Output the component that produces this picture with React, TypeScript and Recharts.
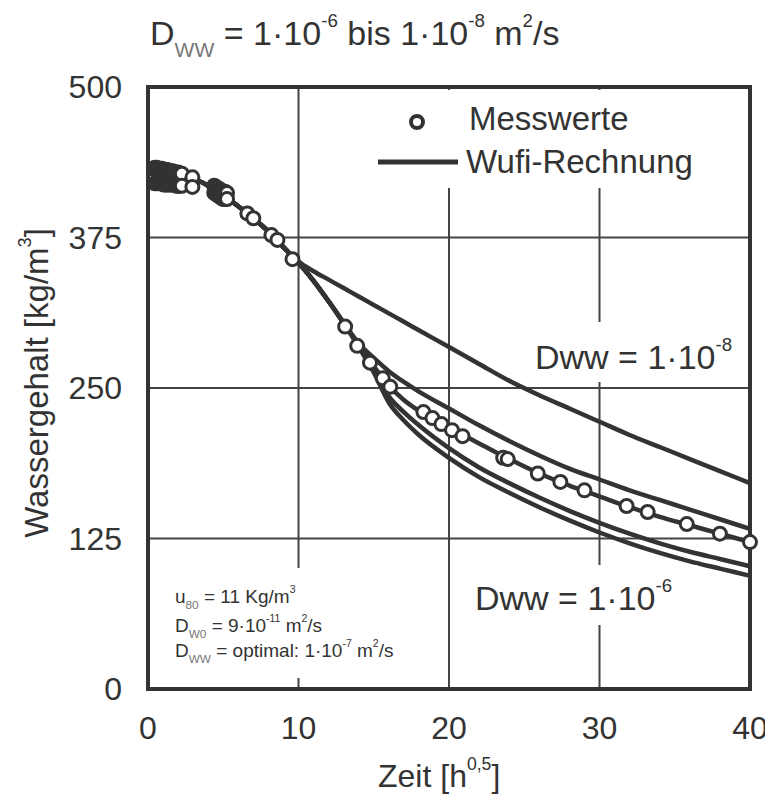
import React from 'react';
import { ComposedChart, Line, Scatter, XAxis, YAxis, CartesianGrid, ReferenceArea } from 'recharts';

const FONT = '"Liberation Sans", Arial, sans-serif';
const INK = '#333';

// Zeit-Stützstellen der Wufi-Kurven [h^0,5]
const kurvenZeit = [0, 1, 2, 3, 4, 5, 6, 7, 8, 9, 10, 11, 12, 13, 14, 15, 16, 17, 18, 20, 22, 24, 26, 28, 30, 32, 34, 36, 38, 40];

// Wassergehalt der Wufi-Rechnungen [kg/m3], von Dww = 1e-8 (oben) bis 1e-6 (unten)
const dww1e8 = [428, 428, 427, 424, 418, 410, 401, 391, 380, 367, 355, 347, 340, 333, 326, 319, 312, 305, 298, 284, 270, 256, 244, 233, 222, 211, 201, 191, 181, 171];
const dwwMitte1 = [428, 428, 427, 424, 418, 410, 401, 391, 380, 367, 354, 339, 322, 304, 287, 275, 264, 255, 247, 233, 219, 206, 194, 183, 174, 165, 157, 149, 141, 133];
const dwwOptimal = [428, 428, 427, 424, 418, 410, 401, 391, 380, 367, 354, 339, 322, 304, 286, 268, 252, 240, 231, 217, 204, 191, 179, 169, 160, 151, 143, 136, 129, 122];
const dwwMitte2 = [428, 428, 427, 424, 418, 410, 401, 391, 380, 367, 354, 339, 322, 304, 285, 265, 243, 230, 219, 200, 184, 171, 159, 148, 138, 129, 121, 114, 108, 102];
const dww1e6 = [428, 428, 427, 424, 418, 410, 401, 391, 380, 367, 354, 339, 322, 304, 284, 263, 238, 223, 211, 192, 176, 163, 151, 140, 130, 121, 113, 106, 100, 94];

// Messwerte, Probe A
const messZeitA = [0.45, 0.57, 0.69, 0.81, 0.93, 1.05, 1.17, 1.29, 1.41, 1.53, 1.65, 1.77, 1.89, 2.01, 2.13, 2.25, 2.95,
  4.4, 4.52, 4.64, 4.76, 4.88, 5.0, 5.12, 5.25, 6.6, 8.2, 9.6, 13.1, 14.75, 16.1, 18.9, 20.2, 23.6, 27.4, 31.8, 35.8, 40.0];
const messWertA = [433, 433, 432, 432, 432, 431, 431, 431, 430, 430, 430, 429, 429, 429, 428, 428, 425,
  418, 417, 416, 415, 414, 413, 413, 412, 395, 377, 357, 301, 271, 251, 225, 215, 192, 172, 152, 137, 122];

// Messwerte, Probe B
const messZeitB = [0.45, 0.57, 0.69, 0.81, 0.93, 1.05, 1.17, 1.29, 1.41, 1.53, 1.65, 1.77, 1.89, 2.01, 2.13, 2.25, 2.95,
  4.4, 4.52, 4.64, 4.76, 4.88, 5.0, 5.12, 5.25, 7.0, 8.6, 13.9, 15.6, 18.3, 19.5, 20.9, 23.9, 25.9, 29.0, 33.2, 38.0];
const messWertB = [420, 420, 420, 420, 420, 419, 419, 419, 419, 419, 419, 419, 418, 418, 418, 418, 417,
  412, 411, 410, 409, 408, 407, 407, 407, 391, 373, 285, 258, 230, 220, 210, 191, 179, 165, 147, 129];

const xTicks = [0, 10, 20, 30, 40];
const yTicks = [0, 125, 250, 375, 500];

const kurven = [dww1e8, dwwMitte1, dwwOptimal, dwwMitte2, dww1e6].map((werte) =>
  kurvenZeit.map((x, i) => ({ x, y: werte[i] }))
);
// beide Proben nach Zeit sortiert, damit die dichten Punkte am Anfang dunkel verschmelzen
const messwerte = [
  ...messZeitA.map((x, i) => ({ x, y: messWertA[i] })),
  ...messZeitB.map((x, i) => ({ x, y: messWertB[i] })),
].sort((a, b) => a.x - b.x);

const Kreis = (props: any) => (
  <circle cx={props.cx} cy={props.cy} r={6.5} fill="#fff" stroke={INK} strokeWidth={3} />
);

const Sup = ({ children }: { children: React.ReactNode }) => (
  <span style={{ fontSize: '0.55em', position: 'relative', top: '-0.95em', lineHeight: 0 }}>{children}</span>
);
const Sub = ({ children }: { children: React.ReactNode }) => (
  <span style={{ fontSize: '0.62em', position: 'relative', top: '0.55em', lineHeight: 0, color: '#777' }}>{children}</span>
);

// Text mit Grundlinie bei y
const Txt = ({ x, y, size, children }: { x: number; y: number; size: number; children: React.ReactNode }) => (
  <div style={{ position: 'absolute', left: x, top: y - 0.8465 * size, fontSize: size, lineHeight: 1, whiteSpace: 'nowrap' }}>
    {children}
  </div>
);

const Box = ({ x, y, w, h }: { x: number; y: number; w: number; h: number }) => (
  <div style={{ position: 'absolute', left: x, top: y, width: w, height: h, background: '#fff' }} />
);

export default function App() {
  const tick = { fontSize: 32, fill: INK, fontFamily: FONT };
  return (
    <div style={{ position: 'relative', width: 765, height: 786, fontFamily: FONT, color: INK }}>
      <ComposedChart width={765} height={786} margin={{ top: 79, right: 23, bottom: 65, left: 0 }}>
        <CartesianGrid stroke="#444" strokeWidth={2} />
        <XAxis type="number" dataKey="x" domain={[0, 40]} ticks={xTicks} tickLine={false} axisLine={false}
          tickSize={0} tickMargin={27} height={40} tick={tick} />
        <YAxis type="number" dataKey="y" domain={[0, 500]} ticks={yTicks} tickLine={false} axisLine={false}
          tickSize={0} tickMargin={26} width={140} tick={tick} />
        {kurven.map((d, i) => (
          <Line key={i} data={d} dataKey="y" type="monotone" stroke={INK} strokeWidth={4.5} dot={false}
            isAnimationActive={false} />
        ))}
        <Scatter data={messwerte} dataKey="y" shape={Kreis} isAnimationActive={false} />
        <ReferenceArea x1={0} x2={40} y1={0} y2={500} fill="none" fillOpacity={0} stroke={INK} strokeWidth={4} />
      </ComposedChart>

      {/* Titel */}
      <Txt x={142} y={37} size={34}>
        D<Sub>WW</Sub> = 1·10<Sup>-6</Sup> bis 1·10<Sup>-8</Sup> m<Sup>2</Sup>/s
      </Txt>

      {/* Legende */}
      <Box x={362} y={82} w={335} h={98} />
      <svg style={{ position: 'absolute', left: 362, top: 82 }} width={110} height={98}>
        <circle cx={47} cy={32} r={6} fill="#fff" stroke={INK} strokeWidth={4} />
        <line x1={8} x2={88} y1={72} y2={72} stroke={INK} strokeWidth={5} />
      </svg>
      <Txt x={461} y={122} size={33}>Messwerte</Txt>
      <Txt x={458} y={165} size={33}>Wufi-Rechnung</Txt>

      {/* Kurvenbeschriftungen */}
      <Box x={517} y={314} w={220} h={60} />
      <Txt x={527} y={361} size={34}>Dww = 1·10<Sup>-8</Sup></Txt>
      <Box x={457} y={557} w={232} h={60} />
      <Txt x={467} y={602} size={34}>Dww = 1·10<Sup>-6</Sup></Txt>

      {/* Parameter */}
      <Box x={157} y={560} w={176} h={110} />
      <Txt x={167} y={595} size={19}>u<Sub>80</Sub> = 11 Kg/m<Sup>3</Sup></Txt>
      <Txt x={167} y={624} size={19}>D<Sub>W0</Sub> = 9·10<Sup>-11</Sup> m<Sup>2</Sup>/s</Txt>
      <Txt x={167} y={649} size={19}>D<Sub>WW</Sub> = optimal: 1·10<Sup>-7</Sup> m<Sup>2</Sup>/s</Txt>

      {/* Achsentitel */}
      <Txt x={370} y={779} size={32}>Zeit [h<Sup>0,5</Sup>]</Txt>
      <div style={{ position: 'absolute', left: 28, top: 375, transform: 'translate(-50%, -50%) rotate(-90deg)',
        fontSize: 33, lineHeight: 1, whiteSpace: 'nowrap' }}>
        Wassergehalt [kg/m<Sup>3</Sup>]
      </div>
    </div>
  );
}
